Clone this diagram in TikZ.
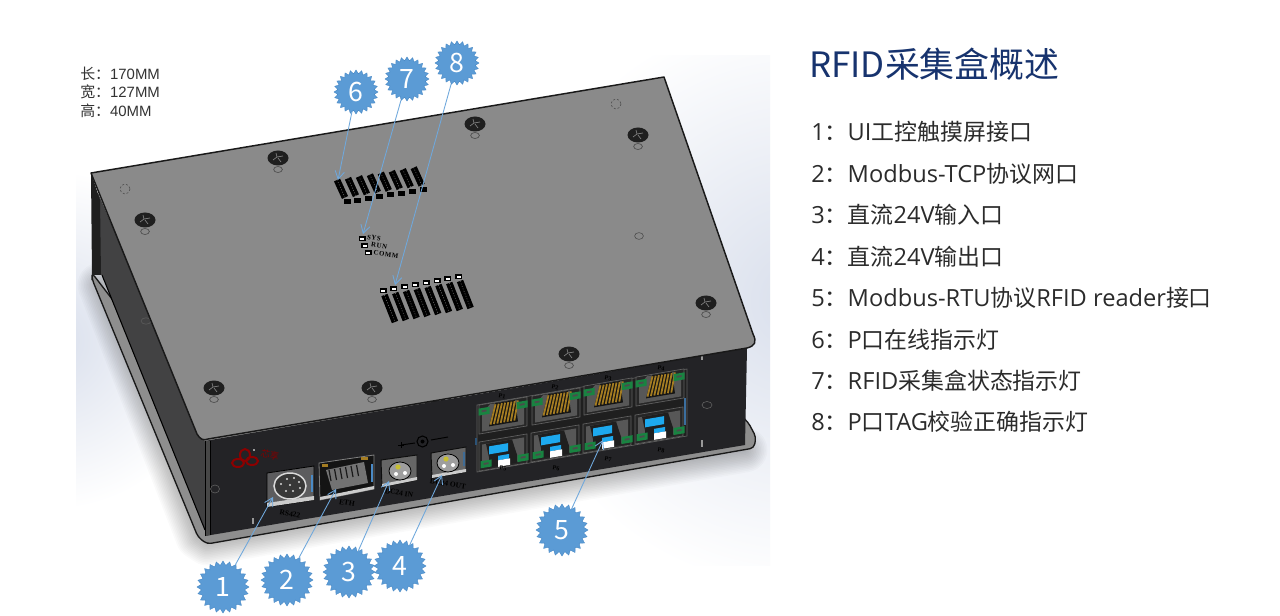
\documentclass[tikz,border=0pt]{standalone}
\usepackage{fontspec}
\setmainfont{Noto Sans CJK SC}
\newfontfamily\dimfont{Liberation Sans}
\newfontfamily\cjkdim{Noto Sans CJK SC}
\newfontfamily\tagfont{Liberation Serif}
\newfontfamily\ledfont[LetterSpace=9]{Liberation Serif}
\newfontfamily\latinpart[Scale=1.03]{Open Sans}
\newcommand{\lat}[1]{{\latinpart #1}}
\usetikzlibrary{shapes.geometric,arrows.meta}
\definecolor{badgeblue}{HTML}{5B9BD5}
\definecolor{badgeedge}{HTML}{4A8AC6}
\definecolor{arrowblue}{HTML}{6FA8DC}
\definecolor{titleblue}{HTML}{17336E}
\definecolor{bodytxt}{HTML}{2B2B2B}
\definecolor{topgray}{HTML}{8A8A8A}
\definecolor{frontdark}{HTML}{232326}
\definecolor{sidegray}{HTML}{424243}
\definecolor{plategray}{HTML}{8E8E8E}
\definecolor{gold}{HTML}{A47C22}
\definecolor{ledgreen}{HTML}{1E9A4C}
\definecolor{portblue}{HTML}{1DA9EE}
\definecolor{panelgray}{HTML}{5C5C5E}
\definecolor{bgblue}{HTML}{D9DFEC}
\tikzset{
  badge/.style={star,star points=24,star point ratio=1.2,fill=badgeblue,draw=badgeedge,line width=.3pt,
    text=white,inner sep=0pt,font=\fontsize{20}{20}\selectfont},
  bigbadge/.style={badge,minimum size=39pt},
  smallbadge/.style={badge,minimum size=33pt},
  callout/.style={draw=arrowblue,line width=.65pt,-{Straight Barb[length=6pt,width=7pt,line width=.65pt]}},
  listline/.style={anchor=west,inner sep=0pt,text=bodytxt,font=\fontsize{17.2}{20}\selectfont},
  titleline/.style={anchor=west,inner sep=0pt,text=titleblue,font=\fontsize{26.2}{30}\selectfont},
  dimline/.style={anchor=west,inner sep=0pt,text=black!80,font=\fontsize{11.2}{12}\selectfont},
  tagtext/.style={inner sep=0pt,text=black,rotate=-9.6,font=\tagfont\bfseries\fontsize{4.6}{5}\selectfont},
  ledtext/.style={inner sep=0pt,text=black,rotate=-9.6,font=\ledfont\bfseries\fontsize{5.1}{5.2}\selectfont},
  facelabel/.style={inner sep=0pt,text=black,rotate=-9.6,font=\tagfont\bfseries\fontsize{5.6}{6}\selectfont},
}
\newcommand{\screw}[2]{%
  \begin{scope}[shift={(#1,#2)}]
    \fill[black!88] (0,0) ellipse [x radius=10.5,y radius=7.5];
    \draw[black!50,line width=.5pt] (-5,2)--(-1,-1)--(-2,-5) (-1,-1)--(5,-2) (0,0)--(3,4);
    \draw[black!72,line width=.45pt] (0,11.5) ellipse [x radius=4.4,y radius=3];
  \end{scope}}
\newcommand{\ledgreen}[2]{%
  \fill[ledgreen!85!black] (#1-5.5,#2-3.5) rectangle (#1+5.5,#2+3.5);
  \fill[black!70] (#1-2.5,#2-1.2) rectangle (#1+2.5,#2+.6);}
\newcommand{\rjupper}[2]{%
  \begin{scope}[shift={(#1,#2)},yslant=0.17]
    \draw[black!62,line width=.5pt,fill=black!85] (-24,-14) -- (24,-14) -- (24,15) -- (-24,15) -- cycle;
    \fill[black!66] (-21,-5) -- (-13,-13) -- (13,-13) -- (21,-5) -- (21,13) -- (-21,13) -- cycle;
    \fill[black!92] (-14,9) -- (-8,-13) -- (12,-13) -- (15,9) -- cycle;
    \foreach \i in {0,...,7}{\draw[gold,line width=1.35pt] (-12.5+3.4*\i,7.5) -- (-7.5+3.2*\i,-12);}
    \ledgreen{-19}{-7}
    \ledgreen{19}{-7}
  \end{scope}}
\newcommand{\rjlower}[2]{%
  \begin{scope}[shift={(#1,#2)},yslant=0.17]
    \draw[black!62,line width=.5pt,fill=black!85] (-24,-15) -- (24,-15) -- (24,14) -- (-24,14) -- cycle;
    \fill[black!66] (-21,-12) -- (21,-12) -- (21,11) -- (-21,11) -- cycle;
    \fill[black!88] (-17,-12) -- (9,-12) -- (14,4) -- (14,12) -- (-14,12) -- (-14,2) -- cycle;
    \fill[portblue] (-14,-9) rectangle (5,-1);
    \fill[portblue] (-5,2) rectangle (6,6.5);
    \fill[white] (-5,6.5) rectangle (7,13);
    \ledgreen{-17}{8}
    \ledgreen{20}{8}
  \end{scope}}
\newcommand{\ledbar}[4]{%
  \draw[black,line width=5pt] (#1,#2) -- (#3,#4);
  \draw[black!50,line width=.35pt,dash pattern=on .7pt off 1.3pt] (#1,#2) -- (#3,#4);}
\begin{document}
\begin{tikzpicture}[x=0.75pt,y=-0.75pt]
\useasboundingbox (0,0) rectangle (1280,616);
\fill[white] (0,0) rectangle (1280,616);
% soft image background
\begin{scope}
  \clip (76,56) rectangle (770,565);
  \shade[inner color=bgblue,outer color=white] (800,300) circle [radius=290];
  \shade[inner color=bgblue,outer color=white] (50,340) circle [radius=170];
  \foreach \i in {1,...,14}{
    \draw[black,opacity=.02,line width=\i*2.4pt,line join=round,line cap=round] (100,285) -- (198,537) -- (207,543) -- (745,450);}
\end{scope}
% base plate
\fill[plategray,draw=black!90,line width=1pt,rounded corners=3pt]
  (92,273) -- (92,279) -- (198,537) -- (207,544) -- (754,448) -- (756,437) -- (748,422) -- (700,380) -- (205,420) -- cycle;
% left side
\fill[sidegray] (98,193) -- (205,442) -- (205,530) -- (102,275) -- (98,275) -- cycle;
\fill[black!88] (91,173) -- (100,200) -- (101,275) -- (92,275) -- cycle;
\draw[black,line width=.8pt] (102,275) -- (205,530);
\draw[black!65,line width=.5pt] (146,321) ellipse [x radius=5,y radius=3.2];
% front face
\fill[frontdark] (205,441) -- (747,348) -- (745,445) -- (205,536) -- cycle;
\fill[black!72] (205,441) -- (210,441) -- (210,535) -- (205,536) -- cycle;
\draw[black,line width=.6pt] (205,441)--(205,536) (210,441)--(210,535);
\draw[black!60,line width=.4pt] (215,489) ellipse [x radius=4.5,y radius=4];
\draw[black!60,line width=.4pt] (707,405) ellipse [x radius=5,y radius=3.5];
\draw[black!40,line width=.8pt] (253,518)--(253,524) (702,440)--(702,447) (702,356)--(702,360) (254,449)--(254,451);
% top plate
\fill[topgray,draw=black!90,line width=1.1pt,line join=round]
  (91,173) -- (664,77) -- (753,334) .. controls (757,342) and (755,346) .. (747,348) -- (208,439) .. controls (203,441) and (200,439) .. (197,434) -- cycle;
% screws
\screw{278}{158}\screw{145}{220}\screw{475}{124}\screw{638}{135}
\screw{706}{303}\screw{569}{354}\screw{372}{388}\screw{214}{388}
\draw[black!70,line width=.45pt,dash pattern=on 1.5pt off 1.5pt] (125,189) circle [radius=5];
\draw[black!70,line width=.45pt,dash pattern=on 1.5pt off 1.5pt] (616,104) circle [radius=5];
\draw[black!70,line width=.45pt] (639,236) ellipse [x radius=4.4,y radius=3.4];
% LED banks
\foreach \i in {0,...,7}{
  \pgfmathsetmacro{\ax}{347+10.95*\i}\pgfmathsetmacro{\ay}{202-1.76*\i}
  \pgfmathsetmacro{\bx}{\ax-2}\pgfmathsetmacro{\by}{\ay-4.5}
  \pgfmathsetmacro{\cx}{\ax-10}\pgfmathsetmacro{\cy}{\ay-22}
  \fill[black] (\ax-3.5,\ay-2.5) rectangle (\ax+3.5,\ay+2.5);
  \ledbar{\bx}{\by}{\cx}{\cy}
  \pgfmathsetmacro{\dx}{383+10.8*\i}\pgfmathsetmacro{\dy}{291-2*\i}
  \pgfmathsetmacro{\ex}{\dx+1.4}\pgfmathsetmacro{\ey}{\dy+4}
  \pgfmathsetmacro{\fx}{\dx+12}\pgfmathsetmacro{\fy}{\dy+31}
  \fill[black] (\dx-3.5,\dy-2.5) rectangle (\dx+3.5,\dy+2.5);
  \fill[white] (\dx-2,\dy-.8) rectangle (\dx+2,\dy+1);
  \ledbar{\ex}{\ey}{\fx}{\fy}
}
\fill[black] (358.5,236.5) rectangle (365.5,241.5); \fill[white] (360,238) rectangle (364,240);
\fill[black] (361,243.5) rectangle (368,248.5); \fill[white] (362.5,245) rectangle (366.5,247);
\fill[black] (364.5,250.5) rectangle (371.5,255.5); \fill[white] (366,252) rectangle (370,254);
\node[ledtext,anchor=west] (sys) at (367,237) {SYS};
\node[ledtext,anchor=west] (run) at (371,244.5) {RUN};
\node[ledtext,anchor=west] (comm) at (373.5,252.5) {COMM};
% port block
\fill[black!88,draw=black!62,line width=.5pt] (477,405) -- (687,369) -- (687,436) -- (477,472) -- cycle;
\draw[badgeedge!80!black,line width=1pt] (685,398) -- (685,425);
\draw[badgeedge!60!black,line width=1pt] (476,438) -- (476,445);
\foreach \x/\y in {503/415,556/406,608/396,660/387}{\rjupper{\x}{\y}}
\foreach \x/\y in {503/453,555/444,607/435,659/426}{\rjlower{\x}{\y}}
\node[tagtext] (p1) at (502,396) {P1};
\node[tagtext] (p2) at (555,387) {P2};
\node[tagtext] (p3) at (608,378) {P3};
\node[tagtext] (p4) at (661,368) {P4};
\node[tagtext] (p5) at (503,468) {P5};
\node[tagtext] (p6) at (556,468) {P6};
\node[tagtext] (p7) at (608,459) {P7};
\node[tagtext] (p8) at (661,450) {P8};
% rs422 panel
\fill[panelgray,draw=black,line width=.6pt] (267,473) -- (314,466) -- (314,500) -- (267,507) -- cycle;
\fill[white!80!black] (267,503) -- (314,496) -- (314,500) -- (267,507) -- cycle;
\draw[badgeedge,line width=1pt] (312,475) -- (312,492);
\draw[white!85!black,line width=1.1pt,fill=black!78] (290,486) ellipse [x radius=16,y radius=13];
\foreach \a/\b in {281/484,287/479,294/478,299/482,300/488,293/491,286/491,290/485}{\fill[white!85!black] (\a,\b) circle [radius=1.1];}
% eth panel
\fill[black!92,draw=black!50,line width=.6pt] (319,463) -- (374,455) -- (374,489) -- (320,500) -- cycle;
\fill[white!80!black] (320,497) -- (374,486) -- (374,489) -- (320,500) -- cycle;
\fill[black!55] (326,470) -- (364,462) -- (368,483) -- (332,490) -- cycle;
\foreach \i in {0,...,5}{\draw[black!90,line width=.9pt] (331+5.5*\i,481-1*\i) -- (329+5.5*\i,470-1*\i);}
\fill[gold] (322,464) rectangle (328,467); \fill[gold] (361,457) rectangle (368,460);
\draw[badgeedge,line width=1pt] (372,464) -- (372,482);
% dc in panel
\fill[black!60,draw=black!95,line width=.7pt] (381,460) -- (417,455) -- (417,480) -- (382,487) -- cycle;
\fill[white!80!black] (382,484) -- (417,477) -- (417,480) -- (382,487) -- cycle;
\draw[black,line width=.6pt,fill=white!62!black] (400,471) ellipse [x radius=11,y radius=9];
\fill[yellow!75!black] (398,467) circle [radius=2.6];
\fill[white] (396,474) circle [radius=2]; \fill[white] (405,473) circle [radius=2];
% dc out panel
\fill[black!60,draw=black!95,line width=.7pt] (431,453) -- (466,447) -- (466,472) -- (432,478) -- cycle;
\fill[white!80!black] (432,475) -- (466,469) -- (466,472) -- (432,478) -- cycle;
\draw[badgeblue!70!black,line width=.8pt] (464,452) -- (464,466);
\draw[black,line width=.6pt,fill=white!62!black] (448,463) ellipse [x radius=11,y radius=9];
\fill[yellow!75!black] (446,459) circle [radius=2.6];
\fill[white] (444,466) circle [radius=2]; \fill[white] (453,465) circle [radius=2];
% polarity mark
\draw[black,line width=.7pt] (401,445) -- (415,443) (431,440) -- (448,437);
\draw[black,line width=.8pt] (422.5,441.5) circle [radius=5.5];
\fill[black] (422.5,441.5) circle [radius=2];
\draw[black,line width=.7pt] (401,442) -- (401,448) (398,445) -- (404,445);
\node[facelabel] (rs) at (290,514) {RS422};
\node[facelabel] (eth) at (347,503) {ETH};
\node[facelabel] (dcin) at (399,493) {DC24 IN};
\node[facelabel] (dcout) at (448,484) {DC24 OUT};
% logo
\draw[red!55!black,line width=1.5pt] (245,455) ellipse [x radius=5,y radius=6];
\draw[red!55!black,line width=1.5pt] (238,463) ellipse [x radius=6,y radius=4];
\draw[red!55!black,line width=1.5pt] (252,461) ellipse [x radius=6,y radius=4];
\node[inner sep=0pt,rotate=-10,text=red!50!black,font=\fontsize{6.8}{8}\selectfont] (logo) at (270,455) {芯享};
% dimensions
\node[dimline] (dim1) at (80,74) {\cjkdim 长：\dimfont 170MM};
\node[dimline] (dim2) at (80,92) {\cjkdim 宽：\dimfont 127MM};
\node[dimline] (dim3) at (80,110.5) {\cjkdim 高：\dimfont 40MM};
% badges
\node[bigbadge] (b1) at (223,587) {1};
\node[bigbadge] (b2) at (287,580) {2};
\node[bigbadge] (b3) at (349,572) {3};
\node[bigbadge] (b4) at (400,566) {4};
\node[bigbadge] (b5) at (562,530) {5};
\node[smallbadge] (b6) at (356,92) {6};
\node[smallbadge] (b7) at (407,79) {7};
\node[smallbadge] (b8) at (457,63) {8};
\coordinate (t1) at (273,497);
\coordinate (t2) at (336,489);
\coordinate (t3) at (389,481);
\coordinate (t4) at (442,475);
\coordinate (t5) at (603,440);
\coordinate (t6) at (338,180);
\coordinate (t7) at (363,234);
\coordinate (t8) at (395,285);
\foreach \n in {1,...,8}{\draw[callout] (b\n) -- (t\n);}
% text
\node[titleline] (title) at (809,64) {RFID采集盒概述};
\node[listline] (l1) at (811,132) {\lat{1}：\lat{UI}工控触摸屏接口};
\node[listline] (l2) at (811,173.5) {\lat{2}：\lat{Modbus-TCP}协议网口};
\node[listline] (l3) at (811,215) {\lat{3}：直流\lat{24V}输入口};
\node[listline] (l4) at (811,256.5) {\lat{4}：直流\lat{24V}输出口};
\node[listline] (l5) at (811,298) {\lat{5}：\lat{Modbus-RTU}协议\lat{RFID reader}接口};
\node[listline] (l6) at (811,339.5) {\lat{6}：\lat{P}口在线指示灯};
\node[listline] (l7) at (811,381) {\lat{7}：\lat{RFID}采集盒状态指示灯};
\node[listline] (l8) at (811,422) {\lat{8}：\lat{P}口\lat{TAG}校验正确指示灯};
\end{tikzpicture}
\end{document}
